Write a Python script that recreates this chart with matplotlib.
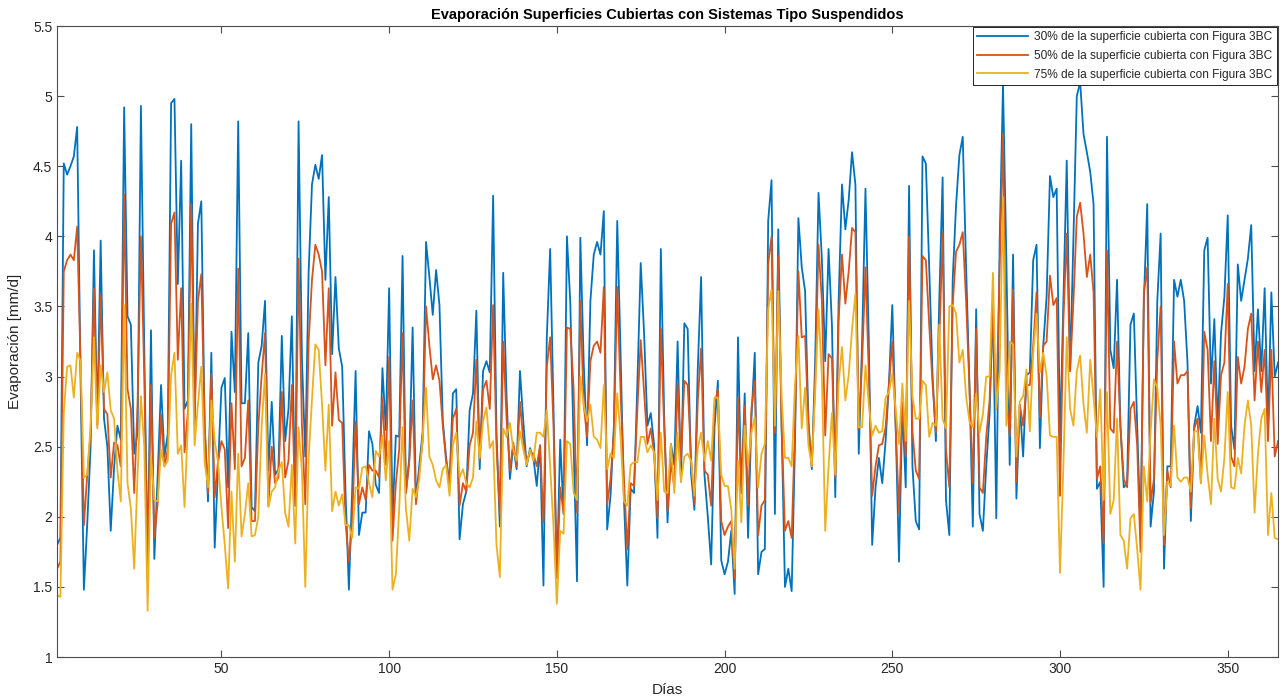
import numpy as np
import matplotlib
matplotlib.use("Agg")
import matplotlib.pyplot as plt

plt.rcParams['font.family'] = ['Liberation Sans', 'DejaVu Sans']

# evaporation per day (mm/d)
evap_30 = [
    1.80, 1.85, 4.52, 4.44, 4.50, 4.57, 4.78, 3.00, 1.48, 1.95, 2.50, 3.90, 2.66, 3.97, 2.70, 2.50,
    1.90, 2.35, 2.65, 2.55, 4.92, 3.43, 3.37, 2.45, 2.60, 4.93, 3.20, 1.63, 3.33, 1.70, 2.30,
    2.94, 2.43, 2.59, 4.95, 4.98, 3.66, 4.54, 2.77, 2.83, 4.80, 2.65, 4.09, 4.25, 2.65, 2.11,
    3.17, 1.78, 2.36, 2.92, 2.99, 2.21, 3.32, 2.89, 4.82, 2.81, 2.81, 3.31, 2.07, 2.04, 3.10,
    3.22, 3.54, 2.33, 2.82, 2.30, 2.34, 3.29, 2.54, 2.77, 3.43, 2.08, 4.82, 3.13, 2.43, 3.75,
    4.37, 4.51, 4.41, 4.58, 3.69, 4.28, 3.16, 3.71, 3.20, 3.07, 2.17, 1.48, 2.21, 3.04, 1.87, 2.03,
    2.03, 2.61, 2.52, 2.23, 2.17, 3.06, 2.62, 3.63, 1.99, 2.58, 2.57, 3.86, 2.17, 2.42, 3.35,
    2.12, 2.37, 2.61, 3.96, 3.71, 3.44, 3.76, 3.51, 2.68, 2.42, 2.23, 2.88, 2.91, 1.84, 2.09, 2.18,
    2.76, 2.88, 3.47, 2.34, 3.04, 3.11, 3.03, 4.29, 2.60, 1.93, 3.74, 2.86, 2.27, 2.51, 2.34,
    3.04, 2.68, 2.36, 2.49, 2.42, 2.22, 2.51, 1.51, 3.28, 3.91, 2.77, 1.57, 2.55, 2.02, 4.00,
    3.53, 2.51, 1.54, 3.99, 3.10, 2.51, 3.54, 3.87, 3.96, 3.87, 4.18, 1.91, 2.15, 2.65, 4.11,
    3.16, 2.12, 1.51, 2.20, 2.17, 2.95, 3.81, 3.31, 2.65, 2.74, 2.51, 1.85, 3.91, 2.71, 1.96, 2.52,
    2.37, 3.25, 2.25, 3.38, 3.34, 2.31, 2.05, 3.05, 3.71, 2.30, 2.00, 1.66, 2.64, 2.97, 1.69,
    1.59, 1.68, 1.90, 1.45, 3.28, 2.17, 2.88, 1.85, 2.70, 3.17, 1.59, 1.75, 1.77, 4.11, 4.40,
    2.02, 4.05, 2.65, 1.50, 1.63, 1.47, 2.54, 4.13, 3.78, 3.61, 2.68, 2.34, 3.10, 4.31, 3.84,
    3.11, 3.91, 3.37, 2.14, 3.54, 4.37, 4.05, 4.26, 4.60, 4.37, 2.45, 3.25, 4.34, 3.25, 1.80, 2.21,
    2.42, 2.24, 2.54, 2.95, 3.51, 2.65, 1.68, 2.80, 2.21, 4.36, 2.36, 1.97, 1.91, 4.57, 4.52,
    3.78, 3.01, 2.54, 3.54, 4.42, 2.12, 1.87, 3.69, 4.22, 4.58, 4.71, 3.78, 2.95, 1.93, 3.48,
    2.02, 1.90, 2.36, 2.73, 3.54, 1.99, 3.96, 5.08, 3.84, 2.37, 3.87, 2.13, 2.80, 2.43, 3.01,
    3.03, 3.83, 3.94, 2.49, 3.22, 3.57, 4.43, 4.28, 4.34, 2.53, 3.54, 4.54, 3.04, 3.99, 5.00,
    5.10, 4.73, 4.60, 4.46, 4.23, 2.20, 2.25, 1.50, 4.71, 3.19, 3.06, 3.69, 2.65, 2.21, 2.24,
    3.37, 3.45, 2.65, 1.88, 3.54, 4.23, 1.93, 2.18, 3.54, 4.02, 1.63, 2.36, 2.36, 3.69, 3.57, 3.69,
    3.54, 3.10, 1.97, 2.65, 2.79, 2.60, 3.90, 3.99, 2.95, 3.41, 2.65, 3.31, 3.57, 4.15, 2.65,
    2.48, 3.80, 3.54, 3.69, 3.84, 4.08, 3.04, 3.48, 3.04, 3.63, 2.65, 3.60, 3.00, 3.10,
]

evap_50 = [
    1.63, 1.68, 3.75, 3.83, 3.87, 3.83, 4.07, 3.10, 1.94, 2.30, 2.60, 3.63, 2.65, 3.58, 2.77, 2.73,
    2.28, 2.53, 2.51, 2.36, 4.30, 2.91, 2.77, 2.17, 2.80, 4.00, 3.00, 1.63, 2.94, 1.85, 2.10,
    2.73, 2.36, 2.48, 4.09, 4.17, 3.12, 3.63, 2.46, 2.75, 4.23, 2.70, 3.54, 3.73, 2.65, 2.17,
    3.02, 2.14, 2.40, 2.54, 2.48, 1.92, 2.81, 2.34, 3.77, 2.36, 2.42, 2.83, 1.97, 1.97, 2.65,
    3.01, 3.31, 2.08, 2.50, 2.24, 2.28, 2.89, 2.28, 2.40, 2.94, 2.08, 3.84, 2.65, 2.09, 3.25,
    3.69, 3.94, 3.87, 3.75, 3.08, 3.63, 2.65, 3.03, 2.69, 2.67, 1.96, 1.68, 1.97, 2.68, 2.09, 2.21,
    2.12, 2.37, 2.33, 2.33, 2.28, 2.85, 2.37, 3.14, 1.83, 2.24, 2.48, 3.31, 2.17, 2.39, 2.83,
    2.09, 2.33, 2.54, 3.50, 3.22, 2.98, 3.08, 2.97, 2.65, 2.39, 2.24, 2.70, 2.77, 2.08, 2.24, 2.18,
    2.51, 2.60, 3.12, 2.40, 2.91, 2.97, 2.77, 3.51, 2.51, 2.02, 3.25, 2.70, 2.33, 2.53, 2.36,
    2.82, 2.54, 2.39, 2.46, 2.45, 2.36, 2.51, 1.96, 3.07, 3.28, 2.65, 1.56, 2.21, 2.03, 3.35,
    3.34, 2.91, 2.03, 3.54, 2.80, 2.57, 3.11, 3.22, 3.25, 3.17, 3.64, 2.09, 2.27, 2.60, 3.64,
    2.88, 2.27, 1.77, 2.24, 2.22, 2.77, 3.26, 2.89, 2.52, 2.63, 2.45, 1.99, 3.34, 2.63, 2.04, 2.39,
    2.21, 2.95, 2.40, 2.97, 2.94, 2.42, 2.09, 2.82, 3.20, 2.33, 2.30, 2.08, 2.80, 2.91, 1.97,
    1.87, 1.93, 1.97, 1.56, 2.85, 2.17, 2.79, 2.08, 2.77, 2.97, 1.87, 2.08, 2.12, 3.80, 4.00,
    2.60, 3.86, 2.65, 1.90, 1.97, 1.85, 2.65, 3.75, 3.28, 3.29, 2.65, 2.36, 2.95, 3.94, 3.54,
    2.58, 3.16, 3.13, 2.28, 3.40, 3.87, 3.52, 3.75, 4.06, 4.03, 2.63, 3.10, 3.78, 3.01, 2.15, 2.36,
    2.51, 2.52, 2.64, 2.95, 3.25, 2.65, 2.03, 2.82, 2.43, 4.00, 2.61, 2.33, 2.27, 3.86, 3.83,
    3.37, 2.95, 2.60, 3.25, 4.02, 2.48, 2.21, 3.51, 3.89, 3.94, 4.03, 3.54, 2.92, 2.24, 3.34,
    2.21, 2.17, 2.57, 2.83, 3.48, 2.77, 3.78, 4.73, 2.86, 2.58, 3.62, 2.25, 2.80, 2.65, 2.94,
    2.94, 3.22, 3.60, 2.71, 3.22, 3.25, 3.72, 3.51, 3.56, 2.15, 3.40, 4.02, 3.04, 3.54, 4.14,
    4.24, 4.02, 3.71, 3.87, 3.60, 2.27, 2.36, 1.81, 3.90, 2.63, 2.60, 3.25, 2.65, 2.27, 2.21,
    2.77, 2.82, 2.51, 1.75, 3.60, 3.78, 2.10, 2.27, 3.12, 3.50, 1.80, 2.33, 2.21, 3.25, 2.95, 3.01,
    3.01, 3.04, 2.06, 2.63, 2.70, 2.24, 3.32, 3.19, 2.54, 3.11, 2.52, 3.01, 3.10, 3.66, 2.43,
    2.36, 3.14, 2.95, 3.07, 3.34, 3.45, 2.83, 3.25, 2.89, 3.19, 2.54, 3.19, 2.43, 2.54,
]

evap_75 = [
    1.44, 1.43, 2.74, 3.07, 3.08, 2.85, 3.17, 3.11, 2.28, 2.30, 2.65, 3.28, 2.63, 3.08, 2.89, 3.03,
    2.76, 2.70, 2.33, 2.11, 3.51, 2.24, 2.06, 1.63, 2.30, 2.86, 2.50, 1.33, 2.43, 2.12, 2.11,
    2.48, 2.36, 2.40, 3.01, 3.17, 2.45, 2.51, 2.07, 2.66, 3.52, 2.51, 2.80, 3.07, 2.39, 2.21,
    2.83, 2.54, 2.39, 2.07, 1.80, 1.49, 2.18, 1.68, 2.45, 1.86, 2.02, 2.24, 1.86, 1.87, 2.00,
    2.65, 3.02, 2.07, 2.18, 2.21, 2.33, 2.39, 2.03, 1.93, 2.37, 1.81, 2.64, 2.33, 1.50, 2.42,
    2.84, 3.23, 3.19, 2.80, 2.33, 2.80, 2.04, 2.18, 2.08, 2.16, 1.94, 1.94, 1.85, 2.21, 2.20, 2.35,
    2.36, 2.24, 2.14, 2.47, 2.43, 2.58, 2.26, 2.54, 1.48, 1.59, 2.06, 2.64, 2.06, 1.83, 2.20,
    2.14, 2.27, 2.57, 2.92, 2.43, 2.37, 2.26, 2.21, 2.34, 2.37, 2.15, 2.51, 2.60, 2.28, 2.34, 2.24,
    2.21, 2.28, 2.68, 2.42, 2.68, 2.78, 2.49, 2.54, 1.80, 1.57, 2.63, 2.57, 2.67, 2.48, 2.40,
    2.61, 2.48, 2.37, 2.48, 2.40, 2.60, 2.60, 2.57, 2.76, 2.36, 1.93, 1.38, 1.90, 1.88, 2.54,
    2.52, 2.17, 2.12, 3.00, 2.80, 2.68, 2.80, 2.57, 2.55, 2.49, 2.94, 2.34, 2.45, 2.42, 2.88,
    2.57, 2.11, 2.08, 2.37, 2.39, 2.39, 2.57, 2.57, 2.46, 2.51, 2.46, 2.12, 2.60, 2.18, 2.17, 2.52,
    2.17, 2.60, 2.25, 2.43, 2.45, 2.40, 2.15, 2.49, 2.60, 2.40, 2.54, 2.40, 2.85, 2.85, 2.30,
    2.22, 2.22, 2.05, 1.63, 2.40, 1.96, 2.65, 2.37, 2.60, 2.71, 2.21, 2.45, 2.52, 3.48, 3.62,
    2.65, 3.61, 2.86, 2.42, 2.42, 2.36, 2.95, 3.29, 2.63, 2.92, 2.51, 2.36, 2.89, 3.48, 3.01,
    1.90, 2.36, 2.74, 2.30, 2.95, 3.21, 2.83, 3.01, 3.34, 3.59, 2.64, 2.64, 3.08, 2.80, 2.58, 2.65,
    2.60, 2.61, 2.85, 2.89, 3.02, 2.77, 2.52, 2.95, 2.54, 3.54, 2.86, 2.70, 2.70, 2.97, 2.94,
    2.57, 2.67, 2.65, 3.37, 2.70, 2.63, 3.50, 3.51, 3.45, 3.10, 3.19, 2.86, 2.68, 2.64, 2.88,
    2.60, 2.73, 3.00, 3.00, 3.74, 2.77, 3.04, 4.28, 2.65, 3.25, 3.23, 2.43, 2.82, 2.86, 3.05,
    2.61, 3.17, 3.45, 3.03, 3.17, 3.01, 2.58, 2.57, 2.57, 1.60, 2.36, 3.28, 2.77, 2.65, 3.04,
    3.15, 2.80, 2.60, 3.12, 2.85, 2.57, 2.91, 2.12, 2.89, 2.02, 2.12, 2.70, 1.87, 1.83, 1.63,
    1.99, 2.02, 1.77, 1.48, 2.36, 2.11, 2.60, 2.98, 2.92, 2.65, 1.87, 2.25, 2.22, 2.65, 2.28, 2.25,
    2.28, 2.28, 2.18, 2.61, 2.61, 2.24, 2.58, 2.30, 2.09, 2.70, 2.27, 2.18, 2.42, 2.89, 2.21,
    2.20, 2.42, 2.31, 2.65, 2.83, 2.65, 2.03, 2.45, 2.70, 2.77, 1.87, 2.17, 1.85, 1.84,
]

labels = [
    "30% de la superficie cubierta con Figura 3BC",
    "50% de la superficie cubierta con Figura 3BC",
    "75% de la superficie cubierta con Figura 3BC",
]
colors = ["#0072BD", "#D95319", "#EDB120"]

days = np.arange(1, len(evap_30) + 1)

fig = plt.figure(figsize=(12.85, 6.99), dpi=100)
ax = fig.add_axes([0.0444, 0.060, 0.9502, 0.9028])

for series, lab, col in zip([evap_30, evap_50, evap_75], labels, colors):
    ax.plot(days, series, color=col, linewidth=1.3, label=lab)

ax.set_xlim(1, 365)
ax.set_ylim(1, 5.5)
ax.set_xticks([50, 100, 150, 200, 250, 300, 350])
yt = np.arange(1, 5.51, 0.5)
ax.set_yticks(yt)
ax.set_yticklabels(["%g" % v for v in yt])

axcol = "#262626"
for sp in ax.spines.values():
    sp.set_color("#4d4d4d")
    sp.set_linewidth(0.8)
ax.tick_params(direction="in", top=True, right=True, length=5, width=0.8,
               colors="#4d4d4d", labelcolor=axcol, labelsize=10)

ax.set_title("Evaporación Superficies Cubiertas con Sistemas Tipo Suspendidos",
             fontsize=10.5, fontweight="bold", color="#000000", pad=5)
ax.set_xlabel("Días", fontsize=11, color=axcol, labelpad=5)
ax.set_ylabel("Evaporación [mm/d]", fontsize=11, color=axcol, labelpad=8)

leg = ax.legend(loc="upper right", fontsize=8.6, frameon=True, fancybox=False,
                edgecolor="#000000", framealpha=1, handlelength=4.3,
                handletextpad=0.5, labelspacing=0.55, borderpad=0.35,
                borderaxespad=0.1)
leg.get_frame().set_linewidth(0.6)
for t in leg.get_texts():
    t.set_color(axcol)

fig.savefig("out.png", dpi=100)
